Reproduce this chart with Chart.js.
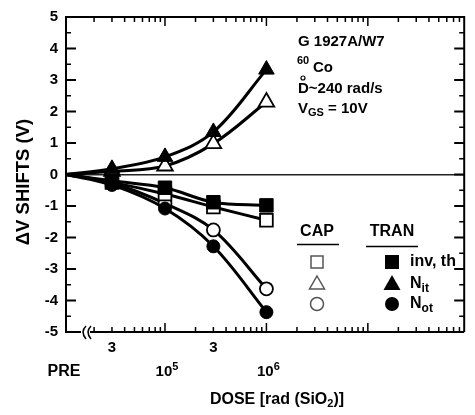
<!DOCTYPE html>
<html>
<head>
<meta charset="utf-8">
<script src="https://cdn.jsdelivr.net/npm/chart.js@4.4.1/dist/chart.umd.min.js"></script>
<style>
  html, body { margin: 0; padding: 0; background: #fff; }
  #wrap { width: 475px; height: 415px; }
</style>
</head>
<body>
<div id="wrap"><canvas id="c" width="475" height="415"></canvas></div>
<script>
// Dose points: null stands for the pre-irradiation reading
const doses = [null, 3e4, 1e5, 3e5, 1e6];

// Threshold-voltage shift components (V)
const tranInv = [0, -0.20, -0.42, -0.88, -0.98];
const capInv  = [0, -0.25, -0.62, -1.03, -1.45];
const tranNit = [0, 0.18, 0.56, 1.35, 3.33];
const capNit  = [0, 0.10, 0.27, 0.98, 2.30];
const tranNot = [0, -0.33, -1.08, -2.28, -4.37];
const capNot  = [0, -0.27, -0.92, -1.76, -3.63];

// Axis labels
const minorLabelDoses = [3e4, 3e5];
const minorLabelText = '3';
const decadeLabelExps = [5, 6];
const preLabel = 'PRE';
const yTitle = '\u0394V SHIFTS (V)';

const X_MIN = 4.024, X_MAX = 7.95;
const FONT = '"Liberation Sans", Arial, Helvetica, sans-serif';

const toX = d => d === null ? X_MIN : Math.log10(d);
const pts = vals => vals.map((v, i) => ({ x: toX(doses[i]), y: v }));
const radii = r => doses.map(d => d === null ? 0 : r);

function series(label, vals, style, filled, r) {
  return {
    label,
    data: pts(vals),
    borderColor: '#000',
    borderWidth: 3,
    tension: 0.35,
    pointStyle: style,
    pointRadius: radii(r),
    pointBackgroundColor: filled ? '#000' : '#fff',
    pointBorderColor: '#000',
    pointBorderWidth: filled ? 1 : 1.8
  };
}

function font(size) { return 'bold ' + size + 'px ' + FONT; }

// draws a run of text pieces with individual sizes / baseline shifts
function rich(ctx, x, y, parts, align) {
  let total = 0;
  parts.forEach(p => { ctx.font = font(p.size); p.w = ctx.measureText(p.t).width; total += p.w; });
  let cx = align === 'center' ? x - total / 2 : x;
  ctx.textBaseline = 'middle';
  ctx.textAlign = 'left';
  parts.forEach(p => {
    ctx.font = font(p.size);
    ctx.fillText(p.t, cx, y + (p.dy || 0));
    cx += p.w;
  });
}

function logTicks() {
  const arr = [];
  for (let e = 4; e <= 7; e++) {
    for (let m = 1; m <= 9; m++) {
      const v = e + Math.log10(m);
      if (v > X_MIN + 0.1 && v < X_MAX - 0.01) arr.push({ v, major: m === 1 });
    }
  }
  return arr;
}

const framePlugin = {
  id: 'frame',
  beforeDatasetsDraw(chart) {
    const { ctx, chartArea: a, scales: { x, y } } = chart;
    ctx.save();
    ctx.strokeStyle = '#000';
    ctx.lineCap = 'butt';
    // left, top, right sides
    ctx.lineWidth = 2;
    ctx.beginPath();
    ctx.moveTo(a.left, a.bottom + 1);
    ctx.lineTo(a.left, a.top);
    ctx.lineTo(a.right, a.top);
    ctx.lineTo(a.right, a.bottom);
    ctx.stroke();
    // bottom side with an axis break after PRE
    const bx = a.left + 18;
    ctx.beginPath();
    ctx.moveTo(a.left, a.bottom);
    ctx.lineTo(bx - 3, a.bottom);
    ctx.moveTo(bx + 6, a.bottom);
    ctx.lineTo(a.right, a.bottom);
    ctx.stroke();
    ctx.lineWidth = 1.5;
    [bx, bx + 5].forEach(cx => {
      ctx.beginPath();
      ctx.moveTo(cx + 2, a.bottom - 6);
      ctx.quadraticCurveTo(cx - 4, a.bottom, cx + 2, a.bottom + 7);
      ctx.stroke();
    });
    // log ticks, top and bottom, pointing inward
    ctx.lineWidth = 1.5;
    logTicks().forEach(t => {
      const px = x.getPixelForValue(t.v);
      const len = t.major ? 9 : 5;
      ctx.beginPath();
      ctx.moveTo(px, a.bottom); ctx.lineTo(px, a.bottom - len);
      ctx.moveTo(px, a.top); ctx.lineTo(px, a.top + len);
      ctx.stroke();
    });
    // value ticks, left and right, pointing inward
    for (let v = -4.5; v <= 4.5; v += 0.5) {
      const py = y.getPixelForValue(v);
      const major = Math.abs(v - Math.round(v)) < 1e-6;
      const len = major ? 10 : 5;
      ctx.lineWidth = major ? 2 : 1.5;
      ctx.beginPath();
      ctx.moveTo(a.left, py); ctx.lineTo(a.left + len, py);
      ctx.moveTo(a.right, py); ctx.lineTo(a.right - len, py);
      ctx.stroke();
    }
    ctx.restore();
  },
  afterDraw(chart) {
    const { ctx, chartArea: a, scales: { x } } = chart;
    ctx.save();
    ctx.fillStyle = '#000';

    // value axis title, rotated
    ctx.save();
    ctx.translate(24, 182);
    ctx.rotate(-Math.PI / 2);
    rich(ctx, 0, 0, [{ t: yTitle, size: 18.5 }], 'center');
    ctx.restore();

    // dose labels
    minorLabelDoses.forEach(d => {
      rich(ctx, x.getPixelForValue(Math.log10(d)), a.bottom + 16, [{ t: minorLabelText, size: 15 }], 'center');
    });
    rich(ctx, x.getPixelForValue(X_MIN) - 2, a.bottom + 40, [{ t: preLabel, size: 16 }], 'center');
    decadeLabelExps.forEach(e => {
      rich(ctx, x.getPixelForValue(e) + 2, a.bottom + 40,
        [{ t: '10', size: 15 }, { t: String(e), size: 11, dy: -5 }], 'center');
    });
    rich(ctx, 277, a.bottom + 68, [
      { t: 'DOSE [rad (SiO', size: 16 },
      { t: '2', size: 11, dy: 4 },
      { t: ')]', size: 16 }
    ], 'center');

    // run conditions
    rich(ctx, 298, 42, [{ t: 'G 1927A/W7', size: 15 }], 'left');
    rich(ctx, 297, 61, [{ t: '60', size: 11 }], 'left');
    rich(ctx, 313, 68, [{ t: 'Co', size: 15 }], 'left');
    rich(ctx, 298, 89, [{ t: 'D~240 rad/s', size: 15 }], 'left');
    ctx.lineWidth = 1.2;
    ctx.strokeStyle = '#000';
    ctx.beginPath();
    ctx.arc(303, 78, 2, 0, Math.PI * 2);
    ctx.stroke();
    rich(ctx, 298, 109, [
      { t: 'V', size: 15 },
      { t: 'GS', size: 11, dy: 4 },
      { t: ' = 10V', size: 15 }
    ], 'left');

    // legend
    rich(ctx, 317, 232, [{ t: 'CAP', size: 16 }], 'center');
    rich(ctx, 392, 232, [{ t: 'TRAN', size: 16 }], 'center');
    ctx.lineWidth = 1.5;
    ctx.beginPath();
    ctx.moveTo(297, 244.5); ctx.lineTo(339, 244.5);
    ctx.moveTo(366, 246.5); ctx.lineTo(418, 246.5);
    ctx.stroke();

    const cx = 317, fx = 392, rows = [262, 284, 304];
    ctx.strokeStyle = '#555';
    ctx.lineWidth = 1.5;
    ctx.fillStyle = '#fff';
    ctx.strokeRect(cx - 6, rows[0] - 6, 12, 12);
    ctx.beginPath();
    ctx.moveTo(cx, rows[1] - 8); ctx.lineTo(cx + 7.5, rows[1] + 5); ctx.lineTo(cx - 7.5, rows[1] + 5); ctx.closePath();
    ctx.stroke();
    ctx.beginPath();
    ctx.arc(cx, rows[2], 6.5, 0, Math.PI * 2);
    ctx.stroke();

    ctx.fillStyle = '#000';
    ctx.fillRect(fx - 7, rows[0] - 7, 14, 14);
    ctx.beginPath();
    ctx.moveTo(fx, rows[1] - 9); ctx.lineTo(fx + 8.5, rows[1] + 6); ctx.lineTo(fx - 8.5, rows[1] + 6); ctx.closePath();
    ctx.fill();
    ctx.beginPath();
    ctx.arc(fx, rows[2], 7, 0, Math.PI * 2);
    ctx.fill();

    rich(ctx, 410, rows[0], [{ t: 'inv, th', size: 16 }], 'left');
    rich(ctx, 410, rows[1], [{ t: 'N', size: 16 }, { t: 'it', size: 12, dy: 5 }], 'left');
    rich(ctx, 410, rows[2], [{ t: 'N', size: 16 }, { t: 'ot', size: 12, dy: 5 }], 'left');
    ctx.restore();
  }
};

new Chart(document.getElementById('c'), {
  type: 'line',
  data: {
    datasets: [
      series('TRAN inv, th', tranInv, 'rect', true, 9.5),
      series('CAP inv, th', capInv, 'rect', false, 9),
      series('TRAN Nit', tranNit, 'triangle', true, 9),
      series('CAP Nit', capNit, 'triangle', false, 9),
      series('TRAN Not', tranNot, 'circle', true, 6.5),
      series('CAP Not', capNot, 'circle', false, 6.5)
    ]
  },
  options: {
    responsive: false,
    animation: false,
    layout: { padding: { top: 12, right: 1, bottom: 83, left: 0 } },
    plugins: { legend: { display: false }, tooltip: { enabled: false } },
    scales: {
      x: {
        type: 'linear',
        display: false,
        min: X_MIN,
        max: X_MAX
      },
      y: {
        type: 'linear',
        min: -5,
        max: 5,
        afterFit: s => { s.width = 66; },
        border: { display: false },
        grid: {
          drawTicks: false,
          color: c => c.tick && c.tick.value === 0 ? '#222' : 'rgba(0,0,0,0)',
          lineWidth: 1.6
        },
        ticks: {
          stepSize: 1,
          padding: 8,
          color: '#000',
          font: { family: FONT, size: 15, weight: 'bold' }
        }
      }
    }
  },
  plugins: [framePlugin]
});
</script>
</body>
</html>
